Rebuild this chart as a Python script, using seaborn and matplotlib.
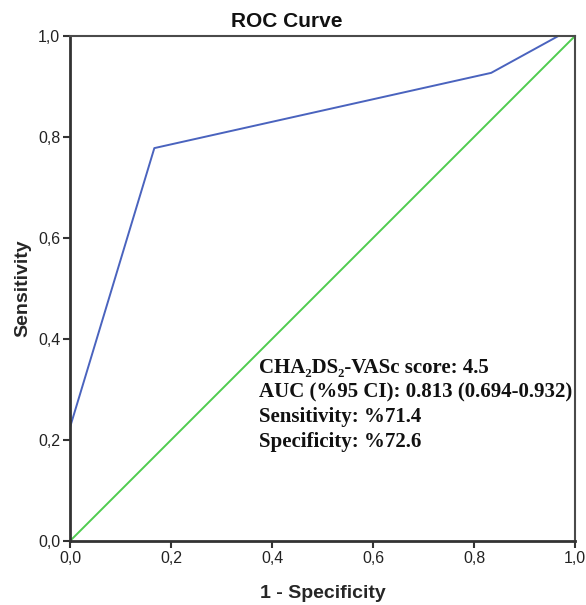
import matplotlib
matplotlib.use("Agg")
import matplotlib.pyplot as plt
import seaborn as sns
import pandas as pd

# Data
fpr = [0.0, 0.0, 0.167, 0.834, 0.967, 1.0]
tpr = [0.0, 0.225, 0.778, 0.927, 1.0, 1.0]
ref_x = [0.0, 1.0]
ref_y = [0.0, 1.0]
tick_vals = [0.0, 0.2, 0.4, 0.6, 0.8, 1.0]
tick_labels = ["0,0", "0,2", "0,4", "0,6", "0,8", "1,0"]
info_lines = [
    "CHA\u2082DS\u2082-VASc score: 4.5",
    "AUC (%95 CI): 0.813 (0.694-0.932)",
    "Sensitivity: %71.4",
    "Specificity: %72.6",
]

sns.set_style("white")
plt.rcParams["font.family"] = ["Liberation Sans", "DejaVu Sans"]

fig = plt.figure(figsize=(5.86, 6.05), dpi=100)
ax = fig.add_axes([70/586, 64/605, 505/586, 505/605])

roc = pd.DataFrame({"fpr": fpr, "tpr": tpr})
ref = pd.DataFrame({"x": ref_x, "y": ref_y})
sns.lineplot(data=ref, x="x", y="y", ax=ax, color="#4fcc4f", linewidth=1.4,
             estimator=None, sort=False)
sns.lineplot(data=roc, x="fpr", y="tpr", ax=ax, color="#4a63be", linewidth=1.4,
             estimator=None, sort=False)

ax.set_xlim(0, 1)
ax.set_ylim(0, 1)
ax.set_xticks(tick_vals)
ax.set_xticklabels(tick_labels)
ax.set_yticks(tick_vals)
ax.set_yticklabels(tick_labels)
ax.tick_params(axis="both", direction="out", length=5, width=1.5, color="#333333",
               labelsize=11.5, labelcolor="#222222", pad=2, left=True, bottom=True)
for s in ax.spines.values():
    s.set_visible(True)
    s.set_color("#4a4a4a")
    s.set_linewidth(1.5)
ax.spines["left"].set_linewidth(2)
ax.spines["bottom"].set_linewidth(2)
ax.spines["left"].set_color("#333333")
ax.spines["bottom"].set_color("#333333")

fig.text(287/586, (605-27)/605, "ROC Curve", fontsize=15, fontweight="bold",
         ha="center", va="baseline", color="#111111")
ax.set_xlabel("1 - Specificity", fontsize=14, fontweight="bold", labelpad=14)
ax.set_ylabel("Sensitivity", fontsize=14, fontweight="bold", labelpad=5)

y0 = 0.342
for i, line in enumerate(info_lines):
    ax.text(0.374, y0 - i * 0.0485, line, transform=ax.transAxes,
            fontsize=15, fontweight="bold", va="center", ha="left",
            family=["Liberation Serif", "DejaVu Serif"], color="#111111")

fig.savefig("out.png", dpi=100)
